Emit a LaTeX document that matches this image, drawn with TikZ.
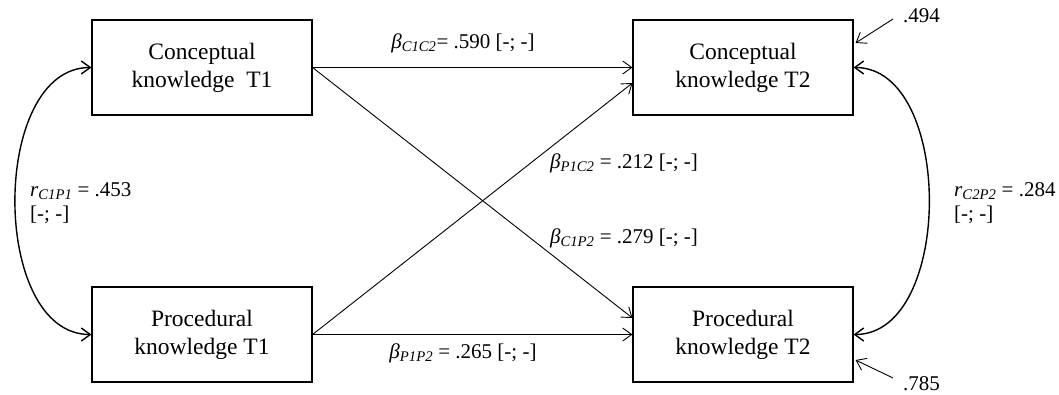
\documentclass[tikz,border=0pt]{standalone}
\usepackage{fontspec}
\setmainfont{Liberation Serif}
\usetikzlibrary{arrows.meta,calc}
\newcommand{\sub}[1]{\textsubscript{\itshape #1}}
\begin{document}
\begin{tikzpicture}[x=1pt,y=-1pt,
  box/.style={draw, line width=1.1pt, minimum width=220pt, minimum height=95pt,
    inner sep=0pt, align=center, font=\fontsize{23.5}{28}\selectfont},
  tip/.style={Straight Barb[length=9pt,width=13pt,line width=1pt]},
  path/.style={line width=0.9pt, -{Straight Barb[length=9pt,width=13pt]}},
  cov/.style={line width=1.4pt, {Straight Barb[length=9pt,width=13pt]}-{Straight Barb[length=9pt,width=13pt]}},
  lab/.style={font=\fontsize{21}{24}\selectfont, inner sep=0pt}]
\useasboundingbox (0,0) rectangle (1059,394);

\node[box] (c1) at (202,67.5) {Conceptual\\knowledge~~T1};
\node[box] (p1) at (202,334.5) {Procedural\\knowledge T1};
\node[box] (c2) at (743,67.5) {Conceptual\\knowledge T2};
\node[box] (p2) at (743,334.5) {Procedural\\knowledge T2};

\draw[path] (c1.east) -- (c2.west);
\draw[path] (p1.east) -- (p2.west);
\draw[path] (c1.east) -- ([yshift=16.5pt]p2.west);
\draw[path] (p1.east) -- ([yshift=-15.5pt]c2.west);

\draw[cov] (c1.west) .. controls (-10,67.5) and (-10,334.5) .. (p1.west);
\draw[cov] (c2.east) .. controls (954,67.5) and (954,334.5) .. (p2.east);

\coordinate (e1) at (893,19);
\coordinate (e2) at (893,378);
\draw[path] (e1) -- ([yshift=24.5pt,xshift=2pt]c2.east);
\draw[path] (e2) -- ([yshift=-25.5pt,xshift=2pt]p2.east);
\node[lab, anchor=west] (ve1) at (903,16) {.494};
\node[lab, anchor=west] (ve2) at (903,384) {.785};

\node[lab] (b1) at (463,43) {\textit{β}\sub{C1C2}= .590 [-; -]};
\node[lab] (b2) at (624,163) {\textit{β}\sub{P1C2} = .212 [-; -]};
\node[lab] (b3) at (624,238) {\textit{β}\sub{C1P2} = .279 [-; -]};
\node[lab] (b4) at (463,353) {\textit{β}\sub{P1P2} = .265 [-; -]};

\node[lab, anchor=west, align=left] (r1) at (30,203) {\textit{r}\sub{C1P1} = .453\\{[-; -]}};
\node[lab, anchor=west, align=left] (r2) at (954,203) {\textit{r}\sub{C2P2} = .284\\{[-; -]}};
\end{tikzpicture}
\end{document}
